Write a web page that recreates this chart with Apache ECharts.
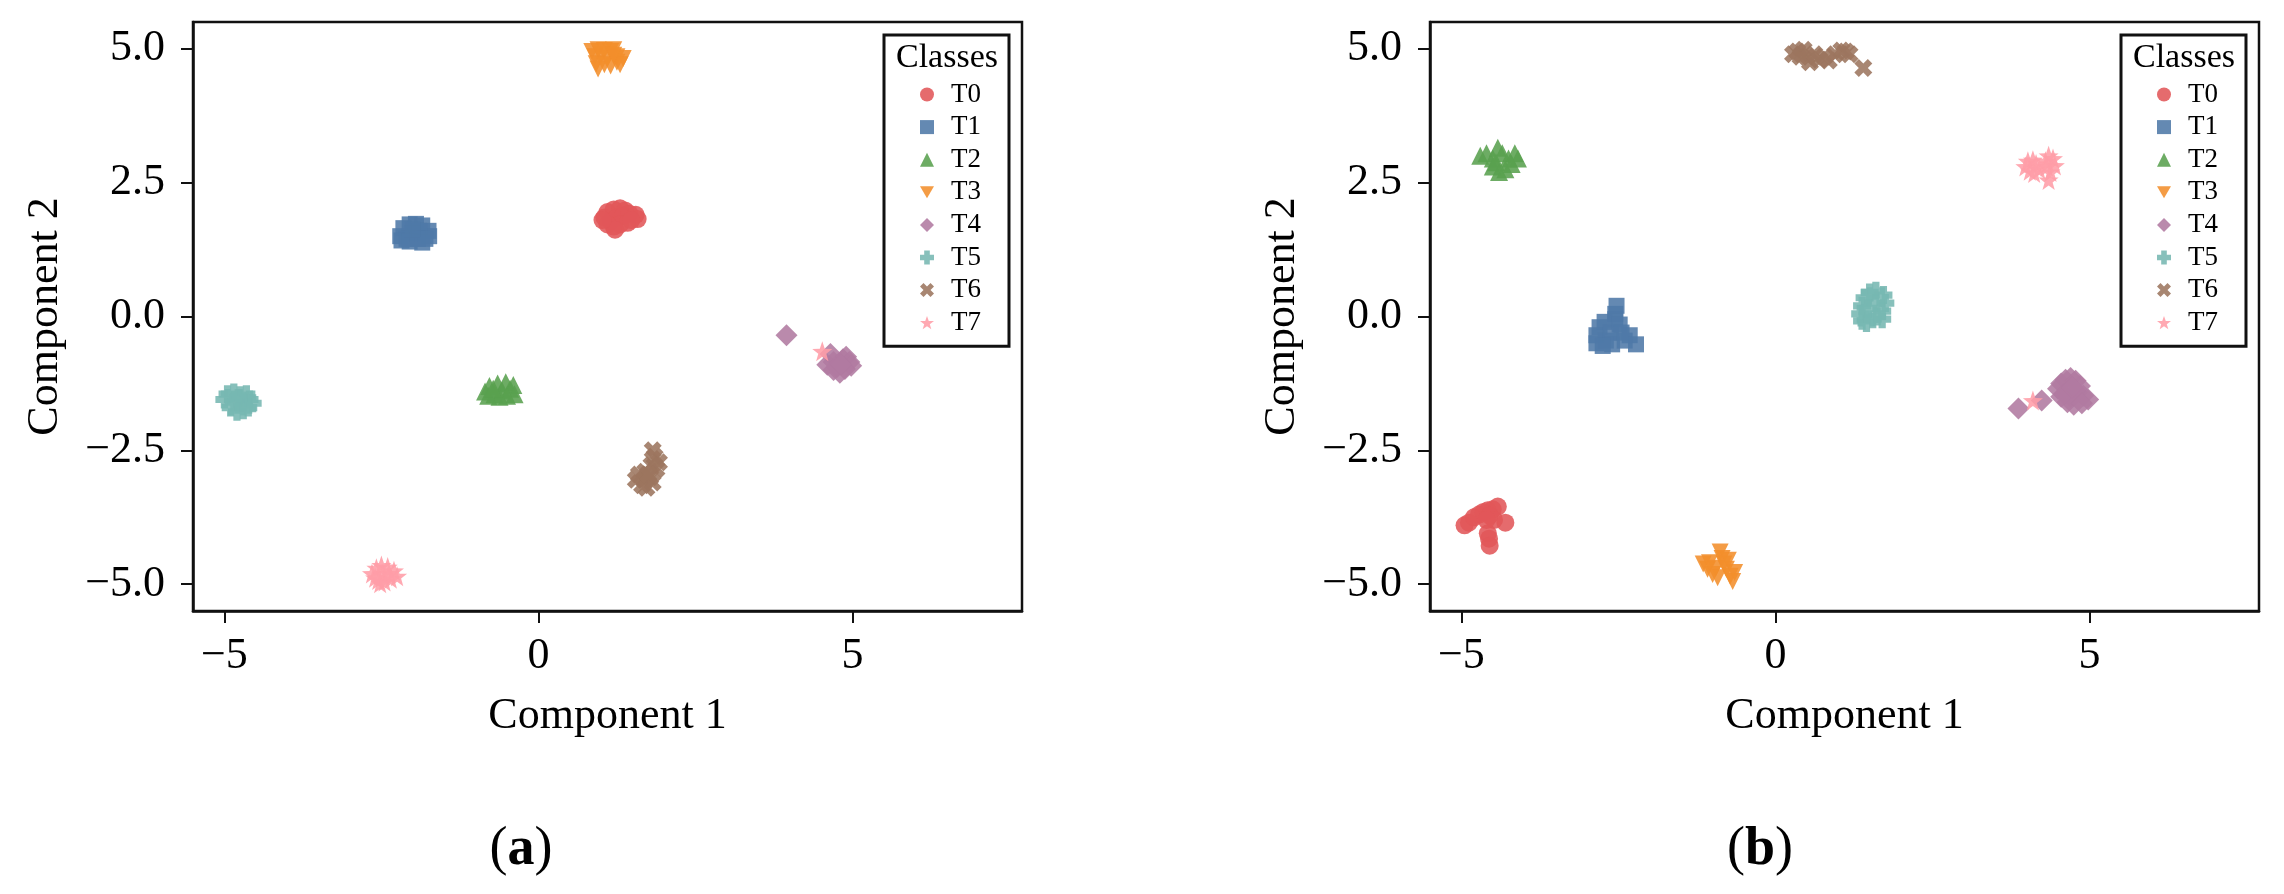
<!DOCTYPE html>
<html>
<head>
<meta charset="utf-8">
<title>Component scatter</title>
<script src="https://cdn.jsdelivr.net/npm/echarts@6/dist/echarts.min.js"></script>
<style>
    html, body { margin: 0; padding: 0; background: #fff; }
    #chart { width: 2284px; height: 894px; }
</style>
</head>
<body>
<div id="chart"></div>
<script>
// classes and ticks
let classes = ['T0', 'T1', 'T2', 'T3', 'T4', 'T5', 'T6', 'T7']
let x_ticks = [-5, 0, 5]
let y_ticks = [-5, -2.5, 0, 2.5, 5]
let captions = ['a', 'b']

// panel (a) points
let a_t0 = [[1.05, 1.85], [1.1, 1.95], [1.2, 2.0], [1.3, 2.02], [1.38, 1.98], [1.15, 1.78], [1.25, 1.85], [1.35, 1.88], [1.45, 1.92], [1.55, 1.9], [1.58, 1.82], [1.2, 1.68], [1.3, 1.72], [1.42, 1.75], [1.1, 1.72], [1.22, 1.62], [1.48, 1.8], [1.02, 1.8]]
let a_t1 = [[-2.2, 1.5], [-2.15, 1.65], [-2.05, 1.72], [-1.95, 1.73], [-1.85, 1.7], [-1.75, 1.6], [-1.74, 1.5], [-2.1, 1.45], [-2.0, 1.55], [-1.9, 1.6], [-2.18, 1.42], [-2.05, 1.4], [-1.92, 1.45], [-1.85, 1.38], [-1.8, 1.45], [-2.0, 1.62]]
let a_t2 = [[-0.85, -1.4], [-0.78, -1.3], [-0.7, -1.45], [-0.65, -1.25], [-0.58, -1.38], [-0.52, -1.23], [-0.45, -1.35], [-0.4, -1.28], [-0.38, -1.45], [-0.5, -1.48], [-0.62, -1.5], [-0.8, -1.48], [-0.72, -1.35]]
let a_t3 = [[0.85, 4.95], [0.95, 4.98], [1.05, 4.97], [1.15, 4.95], [1.2, 4.98], [0.9, 4.85], [1.0, 4.88], [1.1, 4.82], [1.25, 4.85], [1.35, 4.82], [0.92, 4.72], [0.95, 4.62], [1.05, 4.7], [1.15, 4.68], [1.25, 4.75], [1.3, 4.7], [1.2, 4.88]]
let a_t4 = [[3.95, -0.35], [4.65, -0.7], [4.7, -0.85], [4.75, -0.95], [4.8, -1.05], [4.85, -0.8], [4.9, -0.75], [4.95, -0.85], [4.98, -0.92], [4.88, -0.98], [4.6, -0.9], [4.7, -1.0], [4.82, -0.9]]
let a_t5 = [[-5.0, -1.55], [-4.95, -1.45], [-4.85, -1.42], [-4.75, -1.47], [-4.65, -1.45], [-4.6, -1.55], [-4.55, -1.62], [-4.7, -1.6], [-4.85, -1.6], [-4.9, -1.7], [-4.8, -1.78], [-4.7, -1.75], [-4.62, -1.7], [-4.78, -1.52]]
let a_t6 = [[1.82, -2.5], [1.85, -2.62], [1.92, -2.72], [1.8, -2.78], [1.88, -2.85], [1.7, -2.9], [1.6, -2.95], [1.55, -3.05], [1.68, -3.05], [1.78, -3.0], [1.65, -3.15], [1.72, -3.2], [1.82, -3.1], [1.75, -2.95]]
let a_t7 = [[-2.65, -4.8], [-2.58, -4.7], [-2.5, -4.65], [-2.4, -4.68], [-2.3, -4.75], [-2.25, -4.85], [-2.35, -4.9], [-2.45, -4.95], [-2.55, -4.92], [-2.48, -4.82], [-2.38, -4.8], [-2.52, -4.98], [-2.6, -4.88], [4.52, -0.65]]

// panel (b) points
let b_t0 = [[-4.95, -3.9], [-4.88, -3.85], [-4.8, -3.75], [-4.72, -3.7], [-4.65, -3.65], [-4.58, -3.62], [-4.5, -3.6], [-4.42, -3.55], [-4.55, -3.72], [-4.48, -3.8], [-4.3, -3.85], [-4.58, -4.05], [-4.56, -4.15], [-4.55, -4.28], [-4.6, -3.8]]
let b_t1 = [[-2.85, -0.5], [-2.85, -0.35], [-2.8, -0.2], [-2.72, -0.1], [-2.7, -0.45], [-2.62, -0.3], [-2.6, -0.52], [-2.55, -0.05], [-2.55, 0.05], [-2.53, 0.2], [-2.48, -0.15], [-2.45, -0.3], [-2.4, -0.45], [-2.32, -0.35], [-2.22, -0.52], [-2.75, -0.55]]
let b_t2 = [[-4.7, 3.0], [-4.6, 3.05], [-4.5, 2.95], [-4.42, 3.15], [-4.35, 3.05], [-4.25, 2.95], [-4.15, 3.05], [-4.1, 2.95], [-4.5, 2.8], [-4.4, 2.7], [-4.3, 2.75], [-4.45, 2.88], [-4.2, 2.85]]
let b_t3 = [[-1.15, -4.62], [-1.08, -4.72], [-1.0, -4.82], [-0.95, -4.7], [-0.88, -4.4], [-0.85, -4.52], [-0.82, -4.62], [-0.78, -4.72], [-0.72, -4.85], [-0.68, -4.95], [-0.65, -4.78], [-0.92, -4.88], [-1.05, -4.6], [-0.75, -4.55]]
let b_t4 = [[4.5, -1.35], [4.55, -1.25], [4.62, -1.18], [4.7, -1.15], [4.78, -1.2], [4.85, -1.3], [4.6, -1.45], [4.7, -1.5], [4.8, -1.42], [4.9, -1.48], [4.98, -1.55], [4.65, -1.6], [4.75, -1.65], [4.88, -1.62], [4.55, -1.5], [4.72, -1.32], [3.87, -1.72], [4.24, -1.57]]
let b_t5 = [[1.35, 0.05], [1.38, -0.08], [1.45, -0.12], [1.55, -0.05], [1.62, 0.0], [1.7, 0.1], [1.75, 0.25], [1.72, 0.4], [1.6, 0.48], [1.5, 0.45], [1.42, 0.35], [1.38, 0.2], [1.7, -0.05], [1.6, 0.25], [1.48, 0.15]]
let b_t6 = [[0.28, 4.9], [0.35, 4.95], [0.45, 4.98], [0.5, 4.85], [0.55, 4.75], [0.62, 4.9], [0.7, 4.8], [0.78, 4.85], [0.85, 4.78], [0.95, 4.9], [1.05, 4.97], [1.12, 4.95], [1.18, 4.9], [0.4, 4.85], [1.4, 4.64]]
let b_t7 = [[3.98, 2.8], [4.02, 2.9], [4.1, 2.92], [4.15, 2.85], [4.05, 2.72], [4.12, 2.68], [4.2, 2.75], [4.3, 2.9], [4.35, 3.0], [4.42, 2.95], [4.45, 2.82], [4.38, 2.7], [4.35, 2.55], [4.32, 2.8], [4.1, -1.57]]

let panel_a = [a_t0, a_t1, a_t2, a_t3, a_t4, a_t5, a_t6, a_t7]
let panel_b = [b_t0, b_t1, b_t2, b_t3, b_t4, b_t5, b_t6, b_t7]

// marker styles (tableau colours, matplotlib-like shapes)
let colors = ['#e15759', '#4e79a7', '#59a14f', '#f28e2b', '#b07aa1', '#76b7b2', '#9c755f', '#ff9da7']
let symbols = [
    'circle',
    'rect',
    'triangle',
    'path://M0,0L10,0L5,8.66Z',
    'diamond',
    'path://M3,0H7V3H10V7H7V10H3V7H0V3H3Z',
    'path://M0,2.5L2.5,0L5,2.5L7.5,0L10,2.5L7.5,5L10,7.5L7.5,10L5,7.5L2.5,10L0,7.5L2.5,5Z',
    'path://M5,0L6.18,3.38L9.76,3.45L6.9,5.62L7.94,9.05L5,7L2.06,9.05L3.1,5.62L0.24,3.45L3.82,3.38Z'
]
let sizes = [18, 16, 18, 17, 22, 18, 18, 20]

let font = '"Liberation Serif", "Times New Roman", serif'
let chart = echarts.init(document.getElementById('chart'))

let grid_left = [193, 1430]
let grid_w = 829

function num_label(digits) {
    return function (v) {
        let s = Math.abs(v).toFixed(digits)
        return (v < 0 ? '\u2212' : '') + s
    }
}

function make_series(points, p) {
    return classes.map(function (c, i) {
        return {
            name: c,
            type: 'scatter',
            xAxisIndex: p,
            yAxisIndex: p,
            data: points[i],
            symbol: symbols[i],
            symbolSize: sizes[i],
            itemStyle: { color: colors[i], opacity: 0.88 },
            emphasis: { disabled: true }
        }
    })
}

let grids = [], x_axes = [], y_axes = [], legends = [], graphics = []
for (let p = 0; p < 2; p++) {
    grids.push({
        left: grid_left[p], top: 22, width: grid_w, height: 589,
        show: true, borderColor: '#111', borderWidth: 2.5, backgroundColor: '#fff'
    })
    x_axes.push({
        type: 'value', gridIndex: p, min: -5.5, max: 7.7,
        name: 'Component 1', nameLocation: 'middle', nameGap: 83,
        nameTextStyle: { fontFamily: font, fontSize: 44, color: '#000' },
        axisLine: { show: true, onZero: false, lineStyle: { color: '#111', width: 2.5 } },
        axisTick: { show: true, inside: false, length: 12, customValues: x_ticks, lineStyle: { color: '#111', width: 2 } },
        axisLabel: { customValues: x_ticks, formatter: num_label(0), margin: 23, fontFamily: font, fontSize: 44, color: '#000' },
        splitLine: { show: false }
    })
    y_axes.push({
        type: 'value', gridIndex: p, min: -5.5, max: 5.5,
        name: 'Component 2', nameLocation: 'middle', nameGap: 126,
        nameTextStyle: { fontFamily: font, fontSize: 44, color: '#000' },
        axisLine: { show: true, onZero: false, lineStyle: { color: '#111', width: 2.5 } },
        axisTick: { show: true, inside: false, length: 12, customValues: y_ticks, lineStyle: { color: '#111', width: 2 } },
        axisLabel: { customValues: y_ticks, formatter: num_label(1), margin: 28, fontFamily: font, fontSize: 44, color: '#000' },
        splitLine: { show: false }
    })
    legends.push({
        data: classes,
        orient: 'vertical',
        left: grid_left[p] + 691,
        top: 35,
        padding: [46, 28, 10, 36],
        itemWidth: 14,
        itemHeight: 14,
        itemGap: 5.6,
        symbolKeepAspect: true,
        selectedMode: false,
        borderColor: '#111',
        borderWidth: 3,
        backgroundColor: '#fff',
        textStyle: { fontFamily: font, fontSize: 27, lineHeight: 26, color: '#000', padding: [0, 0, 0, 12] }
    })
    graphics.push({
        type: 'text', x: grid_left[p] + 754, y: 58, z: 100,
        style: { text: 'Classes', font: '34px ' + font, fill: '#000', textAlign: 'center', textVerticalAlign: 'middle' }
    })
    graphics.push({
        type: 'text', x: 521 + p * 1239, y: 850,
        style: {
            text: '{n|(}{b|' + captions[p] + '}{n|)}',
            textAlign: 'center', textVerticalAlign: 'middle',
            rich: {
                n: { fontFamily: font, fontSize: 54, fill: '#000' },
                b: { fontFamily: font, fontSize: 54, fontWeight: 'bold', fill: '#000' }
            }
        }
    })
}

let option = {
    backgroundColor: '#fff',
    animation: false,
    grid: grids,
    xAxis: x_axes,
    yAxis: y_axes,
    legend: legends,
    graphic: graphics,
    series: make_series(panel_a, 0).concat(make_series(panel_b, 1))
}
chart.setOption(option)
</script>
</body>
</html>
